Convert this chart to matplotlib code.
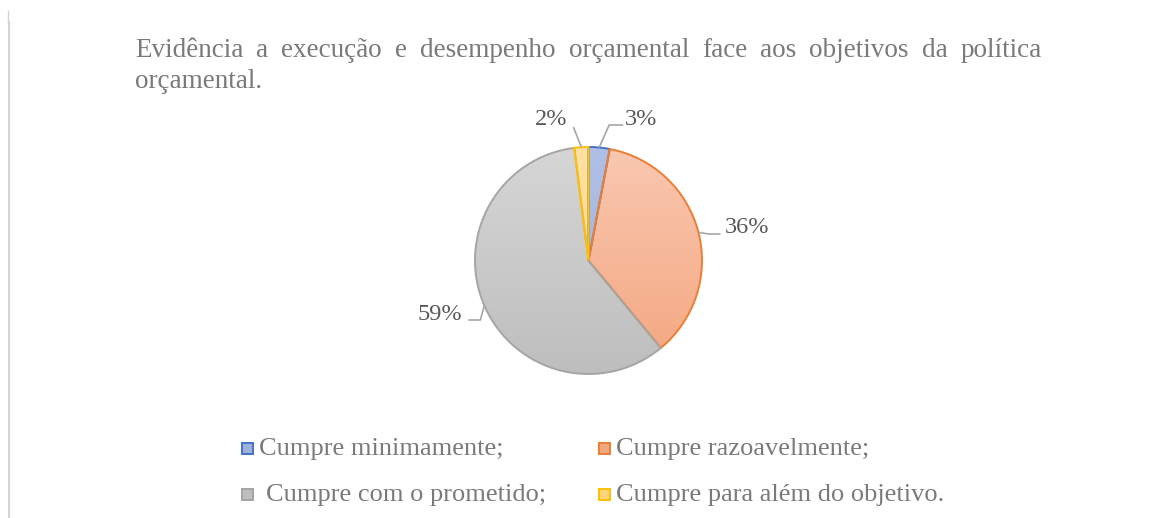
import numpy as np
import matplotlib
matplotlib.use("Agg")
import matplotlib.pyplot as plt
from matplotlib.colors import LinearSegmentedColormap

categories = ["Cumpre minimamente;", "Cumpre razoavelmente;",
              "Cumpre com o prometido;", "Cumpre para além do objetivo."]
values = [3, 36, 59, 2]
pct_labels = ["3%", "36%", "59%", "2%"]
title_line1 = "Evidência a execução e desempenho orçamental face aos objetivos da política"
title_line2 = "orçamental."

edge_colors = ["#4472c4", "#ed7d31", "#a5a5a5", "#ffc000"]
grad_top = ["#b0bfe5", "#f9c8b1", "#d6d6d6", "#ffe1a3"]
grad_bot = ["#9eb1dc", "#f4a67f", "#bebebe", "#ffd47a"]

W, H = 1153, 518
fig = plt.figure(figsize=(W / 100, H / 100), dpi=100)
ax = fig.add_axes([0, 0, 1, 1])
FONT = "Liberation Serif"
TXT = "#7a7a7a"
LAB = "#595959"

cx, cy, R = 588.5, H - 260.5, 113.5
wedges, _ = ax.pie(values, startangle=90, counterclock=False, center=(cx, cy),
                   radius=R, frame=True,
                   wedgeprops=dict(linewidth=1.4))
grad = np.linspace(0, 1, 256).reshape(-1, 1)
for w, ec, t, b in zip(wedges, edge_colors, grad_top, grad_bot):
    w.set_facecolor("none")
    w.set_edgecolor(ec)
    w.set_zorder(3)
    cmap = LinearSegmentedColormap.from_list("g", [t, b])
    im = ax.imshow(grad, cmap=cmap, extent=(cx - R, cx + R, cy - R, cy + R),
                   origin="upper", aspect="auto", zorder=2)
    im.set_clip_path(w)
ax.set_xlim(0, W)
ax.set_ylim(0, H)
ax.set_aspect("auto")
ax.axis("off")

# data labels with leader lines (offsets from the wedge's mid-angle edge point)
lc = "#a6a6a6"
fs_lab = 17.5
for w, lab in zip(wedges, pct_labels):
    mid = np.deg2rad((w.theta1 + w.theta2) / 2)
    ex, ey = cx + R * np.cos(mid), cy + R * np.sin(mid)
    if lab == "3%":
        pts = [(ex, ey), (ex + 10, H - 125), (ex + 24, H - 125)]
        ax.text(ex + 26, H - 125, lab, fontsize=fs_lab, family=FONT, color=LAB,
                ha="left", va="baseline")
    elif lab == "36%":
        pts = [(ex, ey), (ex + 10, H - 234), (ex + 22, H - 234)]
        ax.text(ex + 26, H - 233, lab, fontsize=fs_lab, family=FONT, color=LAB,
                ha="left", va="baseline")
    elif lab == "59%":
        pts = [(ex, ey), (ex - 4, H - 320), (ex - 16, H - 320)]
        ax.text(ex - 22, H - 320, lab, fontsize=fs_lab, family=FONT, color=LAB,
                ha="right", va="baseline")
    else:
        pts = [(ex, ey), (ex - 8, H - 127)]
        ax.text(ex - 14, H - 125, lab, fontsize=fs_lab, family=FONT, color=LAB,
                ha="right", va="baseline")
    xs, ys = zip(*pts)
    ax.plot(xs, ys, color=lc, lw=1.2, zorder=4, solid_capstyle="butt")

# justified title
fs_title = 19.5
renderer = fig.canvas.get_renderer()
words = title_line1.split(" ")
x_left, x_right = 135, 1042
objs = [ax.text(0, H - 57, wd, fontsize=fs_title, family=FONT, color=TXT,
                ha="left", va="baseline") for wd in words]
widths = [o.get_window_extent(renderer=renderer).width for o in objs]
gap = (x_right - x_left - sum(widths)) / (len(words) - 1)
x = x_left
for o, wdt in zip(objs, widths):
    o.set_x(x)
    x += wdt + gap
ax.text(x_left, H - 88, title_line2, fontsize=fs_title, family=FONT, color=TXT,
        ha="left", va="baseline")

# legend
fs_leg = 19
leg_pos = [(247, 448), (604, 448), (247, 494), (604, 494)]
text_dx = [12, 12, 19, 12]
for (lx, ly), cat, ec, t, b, dx in zip(leg_pos, categories, edge_colors,
                                       grad_top, grad_bot, text_dx):
    ax.add_patch(plt.Rectangle((lx - 5.5, H - ly - 5.5), 11, 11, facecolor=b,
                               edgecolor=ec, lw=1.4, zorder=3))
    ax.text(lx + dx, H - ly - 7, cat, fontsize=fs_leg, family=FONT, color=TXT,
            ha="left", va="baseline")

# left border line
ax.plot([9, 9], [0, H - 22], color="#d4d4d4", lw=1.5)
ax.plot([8, 8], [H - 22, H - 11], color="#d4d4d4", lw=1.0)

fig.savefig("out.png", dpi=100)
